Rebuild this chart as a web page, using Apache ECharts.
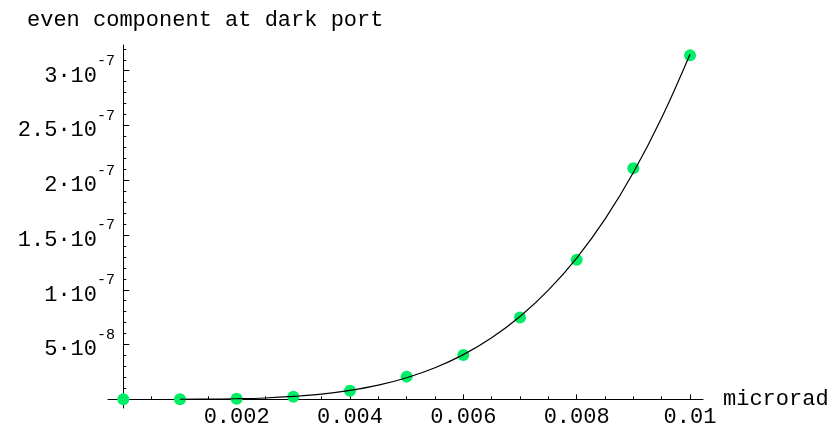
<!DOCTYPE html>
<html>
<head>
<meta charset="utf-8">
<script src="https://cdn.jsdelivr.net/npm/echarts@6/dist/echarts.min.js"></script>
<style>
  html, body { margin: 0; padding: 0; background: #fff; }
  #chart { width: 838px; height: 426px; }
</style>
</head>
<body>
<div id="chart"></div>
<script>
// Measured even component at the dark port versus tilt angle (microrad)
const sampleX = [0, 0.001, 0.002, 0.003, 0.004, 0.005, 0.006, 0.007, 0.008, 0.009, 0.01];
const sampleY = [0, 0, 5e-10, 2.4e-9, 7.9e-9, 2.07e-8, 4.05e-8, 7.46e-8, 1.273e-7, 2.11e-7, 3.14e-7];

// Fitted curve through the samples
const fitX = [0.001, 0.0015, 0.002, 0.0025, 0.003, 0.0035, 0.004, 0.0045, 0.005, 0.0055,
              0.006, 0.0065, 0.007, 0.0075, 0.008, 0.0085, 0.009, 0.0095, 0.01];
const fitY = [3e-11, 1.6e-10, 5e-10, 1.2e-9, 2.6e-9, 4.7e-9, 8.1e-9, 1.29e-8, 1.97e-8, 2.88e-8,
              4.08e-8, 5.62e-8, 7.56e-8, 9.97e-8, 1.29e-7, 1.645e-7, 2.07e-7, 2.57e-7, 3.15e-7];

// Axis ticks and labels
const xTickValues = [0.002, 0.004, 0.006, 0.008, 0.01];
const xTickLabels = ['0.002', '0.004', '0.006', '0.008', '0.01'];
const xMinorTicks = [0.0005, 0.001, 0.0015, 0.0025, 0.003, 0.0035, 0.0045, 0.005, 0.0055,
                     0.0065, 0.007, 0.0075, 0.0085, 0.009, 0.0095];
const yTickValues = [5e-8, 1e-7, 1.5e-7, 2e-7, 2.5e-7, 3e-7];
const yTickMantissas = ['5', '1', '1.5', '2', '2.5', '3'];
const yTickExponents = ['-8', '-7', '-7', '-7', '-7', '-7'];
const yMinorTicks = [1e-8, 2e-8, 3e-8, 4e-8, 6e-8, 7e-8, 8e-8, 9e-8, 1.1e-7, 1.2e-7, 1.3e-7, 1.4e-7,
                     1.6e-7, 1.7e-7, 1.8e-7, 1.9e-7, 2.1e-7, 2.2e-7, 2.3e-7, 2.4e-7, 2.6e-7, 2.7e-7,
                     2.8e-7, 2.9e-7, 3.1e-7, 3.2e-7];

const X_MIN = -0.00027, X_MAX = 0.010229;
const Y_MIN = -7.94e-9, Y_MAX = 3.2347e-7;

const FONT = 'Liberation Mono';
const INK = '#000';

function nearestIndex(list, v) {
  let best = 0;
  for (let i = 1; i < list.length; i++) {
    if (Math.abs(list[i] - v) < Math.abs(list[best] - v)) best = i;
  }
  return best;
}

const chart = echarts.init(document.getElementById('chart'), null, { renderer: 'canvas' });

chart.setOption({
  animation: false,
  backgroundColor: '#fff',
  title: {
    text: 'even component at dark port',
    left: 27,
    top: 9,
    padding: 0,
    textStyle: { fontFamily: FONT, fontSize: 22, fontWeight: 'normal', color: INK }
  },
  grid: { left: 108, right: 135, top: 45, bottom: 18, outerBoundsMode: 'none', containLabel: false },
  xAxis: [
    {
      type: 'value', position: 'bottom', min: X_MIN, max: X_MAX,
      name: 'microrad', nameLocation: 'end', nameGap: 20,
      nameTextStyle: { fontFamily: FONT, fontSize: 22, color: INK },
      axisLine: { show: true, onZero: true, lineStyle: { color: INK, width: 1 } },
      axisTick: { show: true, inside: true, length: 5, customValues: xTickValues, lineStyle: { color: INK } },
      axisLabel: {
        show: true, customValues: xTickValues, margin: -2,
        fontFamily: FONT, fontSize: 22, color: INK,
        formatter: v => xTickLabels[nearestIndex(xTickValues, v)]
      },
      splitLine: { show: false }
    },
    {
      type: 'value', position: 'top', min: X_MIN, max: X_MAX,
      axisLine: { show: false, onZero: true },
      axisTick: { show: true, inside: false, length: 3, customValues: xMinorTicks, lineStyle: { color: INK } },
      axisLabel: { show: false },
      splitLine: { show: false }
    }
  ],
  yAxis: [
    {
      type: 'value', position: 'left', min: Y_MIN, max: Y_MAX,
      axisLine: { show: true, onZero: true, lineStyle: { color: INK, width: 1 } },
      axisTick: { show: true, inside: true, length: 6, customValues: yTickValues, lineStyle: { color: INK } },
      axisLabel: {
        show: true, customValues: yTickValues, margin: -7,
        padding: [10, 0, 0, 0],
        formatter: v => {
          const i = nearestIndex(yTickValues, v);
          return '{b|' + yTickMantissas[i] + '\u00b710}{s|' + yTickExponents[i] + '}';
        },
        rich: {
          b: { fontFamily: FONT, fontSize: 22, color: INK, lineHeight: 22, verticalAlign: 'bottom' },
          s: { fontFamily: FONT, fontSize: 15, color: INK, lineHeight: 15, verticalAlign: 'bottom', padding: [0, 0, 18, 0] }
        }
      },
      splitLine: { show: false }
    },
    {
      type: 'value', position: 'right', min: Y_MIN, max: Y_MAX,
      axisLine: { show: false, onZero: true },
      axisTick: { show: true, inside: false, length: 3, customValues: yMinorTicks, lineStyle: { color: INK } },
      axisLabel: { show: false },
      splitLine: { show: false }
    }
  ],
  series: [
    {
      type: 'scatter', xAxisIndex: 0, yAxisIndex: 0, z: 2,
      data: sampleX.map((x, i) => [x, sampleY[i]]),
      symbol: 'circle', symbolSize: 12,
      itemStyle: { color: '#00ee66', opacity: 1 }
    },
    {
      type: 'line', xAxisIndex: 0, yAxisIndex: 0, z: 3,
      data: fitX.map((x, i) => [x, fitY[i]]),
      smooth: 0.4, showSymbol: false, symbol: 'none',
      lineStyle: { color: INK, width: 1.2 }
    }
  ]
});
</script>
</body>
</html>
